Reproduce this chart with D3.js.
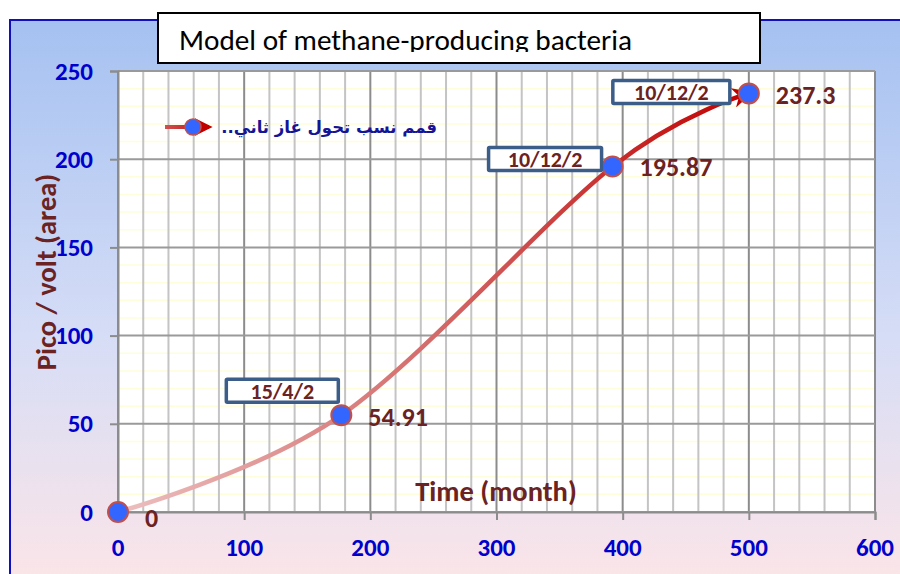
<!DOCTYPE html>
<html>
<head>
<meta charset="utf-8">
<script src="https://cdn.jsdelivr.net/npm/d3@7"></script>
<style>
  body { margin: 0; background: #fff; }
  svg { display: block; }
  .tick-lbl { font-family: Carlito, Lato, sans-serif; font-weight: bold; fill: #0000cc; font-size: 25px; }
  .ax-title { font-family: Carlito, Lato, sans-serif; font-weight: bold; fill: #6b2222; font-size: 28.5px; }
  .val-lbl { font-family: Carlito, Lato, sans-serif; font-weight: bold; fill: #6b2222; font-size: 26px; }
  .date-lbl { font-family: Carlito, Lato, sans-serif; font-weight: bold; fill: #6b2222; font-size: 22px; }
</style>
</head>
<body>
<div id="chart"></div>
<script>
// data
const months = [0, 177, 392, 500];
const values = [0, 54.91, 195.87, 237.3];
const valueLabels = ["0", "54.91", "195.87", "237.3"];
const dateLabels = [null, "15/4/2", "10/12/2", "10/12/2"];
const xTicks = [0, 100, 200, 300, 400, 500, 600];
const yTicks = [0, 50, 100, 150, 200, 250];
const titleText = "Model of methane-producing bacteria";
const legendText = "قمم نسب تحول غاز ثاني..";
const xTitle = "Time (month)";
const yTitle = "Pico / volt (area)";

const W = 900, H = 574;
const x = d3.scaleLinear().domain([0, 600]).range([118, 875]);
const y = d3.scaleLinear().domain([0, 250]).range([512, 71]);

const svg = d3.select("#chart").append("svg").attr("width", W).attr("height", H);
const defs = svg.append("defs");

// background gradient for the chart area
const bg = defs.append("linearGradient").attr("id", "bgGrad")
  .attr("x1", 0).attr("y1", 0).attr("x2", 0).attr("y2", 1);
bg.append("stop").attr("offset", "0%").attr("stop-color", "#a5c1f1");
bg.append("stop").attr("offset", "55%").attr("stop-color", "#d6ddf6");
bg.append("stop").attr("offset", "100%").attr("stop-color", "#fde5e7");

// line gradient: pale pink to red
const lg = defs.append("linearGradient").attr("id", "lineGrad")
  .attr("gradientUnits", "userSpaceOnUse")
  .attr("x1", x(0)).attr("y1", 0).attr("x2", x(500)).attr("y2", 0);
lg.append("stop").attr("offset", "0%").attr("stop-color", "#edc0c0");
lg.append("stop").attr("offset", "50%").attr("stop-color", "#d46a6a");
lg.append("stop").attr("offset", "100%").attr("stop-color", "#c00000");

const lgLeg = defs.append("linearGradient").attr("id", "legGrad")
  .attr("gradientUnits", "userSpaceOnUse")
  .attr("x1", 165).attr("y1", 0).attr("x2", 215).attr("y2", 0);
lgLeg.append("stop").attr("offset", "0%").attr("stop-color", "#d05050");
lgLeg.append("stop").attr("offset", "100%").attr("stop-color", "#c00000");

defs.append("marker").attr("id", "arrow")
  .attr("viewBox", "0 -5 10 10").attr("refX", 8).attr("refY", 0)
  .attr("markerWidth", 4.5).attr("markerHeight", 4.5).attr("orient", "auto")
  .attr("markerUnits", "strokeWidth")
  .append("path").attr("d", "M0,-5L10,0L0,5L3,0Z").attr("fill", "#c00000");

// chart area
svg.append("rect").attr("x", 10).attr("y", 20).attr("width", W).attr("height", H)
  .attr("fill", "url(#bgGrad)");
svg.append("path").attr("d", `M10,${H}V20H${W}`).attr("fill", "none")
  .attr("stroke", "#1010c0").attr("stroke-width", 2);

// plot area
svg.append("rect").attr("x", x(0)).attr("y", y(250))
  .attr("width", x(600) - x(0)).attr("height", y(0) - y(250)).attr("fill", "#fff");

const grid = svg.append("g");
// minor horizontal (pale yellow)
grid.selectAll(".hmin").data(d3.range(10, 250, 10).filter(v => v % 50 !== 0)).join("line")
  .attr("x1", x(0)).attr("x2", x(600)).attr("y1", d => y(d)).attr("y2", d => y(d))
  .attr("stroke", "#fefedc").attr("stroke-width", 1.5);
// vertical minor / major
grid.selectAll(".v").data(d3.range(0, 601, 20)).join("line")
  .attr("x1", d => x(d)).attr("x2", d => x(d)).attr("y1", y(250)).attr("y2", y(0))
  .attr("stroke", d => d % 100 === 0 ? "#8c8c8c" : "#c4c4c4").attr("stroke-width", 2);
// horizontal major
grid.selectAll(".hmaj").data(yTicks).join("line")
  .attr("x1", x(0)).attr("x2", x(600)).attr("y1", d => y(d)).attr("y2", d => y(d))
  .attr("stroke", "#9a9a9a").attr("stroke-width", 2);

// axes
const xAxis = svg.append("g").attr("transform", `translate(0,${y(0)})`)
  .call(d3.axisBottom(x).tickValues(xTicks).tickSize(8).tickFormat(""));
const yAxis = svg.append("g").attr("transform", `translate(${x(0)},0)`)
  .call(d3.axisLeft(y).tickValues(yTicks).tickSize(8).tickFormat(""));
[xAxis, yAxis].forEach(a => {
  a.selectAll("path, line").attr("stroke", "#8c8c8c").attr("stroke-width", 2);
});

svg.append("g").selectAll("text").data(xTicks).join("text")
  .attr("class", "tick-lbl").attr("x", d => x(d)).attr("y", 547)
  .attr("text-anchor", "middle").attr("dominant-baseline", "central").text(d => d);
svg.append("g").selectAll("text").data(yTicks).join("text")
  .attr("class", "tick-lbl").attr("x", 93).attr("y", d => y(d))
  .attr("text-anchor", "end").attr("dominant-baseline", "central").text(d => d);

// axis titles
svg.append("text").attr("class", "ax-title").attr("x", 496).attr("y", 491)
  .attr("text-anchor", "middle").attr("dominant-baseline", "central").text(xTitle);
svg.append("text").attr("class", "ax-title")
  .attr("transform", "translate(46,272) rotate(-90)")
  .attr("text-anchor", "middle").attr("dominant-baseline", "central").text(yTitle);

// series
const pts = months.map((m, i) => [x(m), y(values[i])]);
svg.append("path").datum(pts)
  .attr("d", d3.line().curve(d3.curveCardinal.tension(0)))
  .attr("fill", "none").attr("stroke", "url(#lineGrad)").attr("stroke-width", 4.5)
  .attr("marker-end", "url(#arrow)");

svg.append("g").selectAll("circle").data(pts).join("circle")
  .attr("cx", d => d[0]).attr("cy", d => d[1]).attr("r", 10)
  .attr("fill", "#3366ff").attr("stroke", "#c0504d").attr("stroke-width", 2);

// value labels
const valDy = [6, 2, 1, 2];
svg.append("g").selectAll("text").data(pts).join("text")
  .attr("class", "val-lbl").attr("x", d => d[0] + 27).attr("y", (d, i) => d[1] + valDy[i])
  .attr("dominant-baseline", "central").text((d, i) => valueLabels[i]);

// date callouts
const boxOff = [null, [-115, -36], [-124, -19], [-136, -13]];
const boxW = [0, 112, 113, 117];
dateLabels.forEach((lbl, i) => {
  if (!lbl) return;
  const bx = pts[i][0] + boxOff[i][0], by = pts[i][1] + boxOff[i][1];
  svg.append("rect").attr("x", bx).attr("y", by).attr("width", boxW[i]).attr("height", 23)
    .attr("fill", "#fff").attr("stroke", "#3b5d87").attr("stroke-width", 3.5).attr("rx", 1);
  svg.append("text").attr("class", "date-lbl").attr("x", bx + boxW[i] / 2).attr("y", by + 12)
    .attr("text-anchor", "middle").attr("dominant-baseline", "central").text(lbl);
});

// legend
svg.append("line").attr("x1", 165).attr("x2", 209).attr("y1", 127).attr("y2", 127)
  .attr("stroke", "url(#legGrad)").attr("stroke-width", 4).attr("marker-end", "url(#arrow)");
svg.append("circle").attr("cx", 193).attr("cy", 127).attr("r", 8)
  .attr("fill", "#3366ff").attr("stroke", "#c0504d").attr("stroke-width", 1.5);
svg.append("text").attr("x", 437).attr("y", 127)
  .attr("direction", "rtl").attr("text-anchor", "start").attr("dominant-baseline", "central")
  .attr("font-family", "DejaVu Sans").attr("font-weight", "bold").attr("font-size", 16.5)
  .attr("fill", "#141496").text(legendText);

// title box
defs.append("clipPath").attr("id", "titleClip")
  .append("rect").attr("x", 158).attr("y", 13).attr("width", 602).attr("height", 39);
svg.append("rect").attr("x", 158).attr("y", 13).attr("width", 602).attr("height", 50)
  .attr("fill", "#fff").attr("stroke", "#000").attr("stroke-width", 2);
svg.append("text").attr("x", 179).attr("y", 50).attr("clip-path", "url(#titleClip)")
  .attr("font-family", "Carlito, Lato, sans-serif").attr("font-size", 28).attr("fill", "#000")
  .attr("textLength", 453).attr("lengthAdjust", "spacingAndGlyphs").text(titleText);
</script>
</body>
</html>
